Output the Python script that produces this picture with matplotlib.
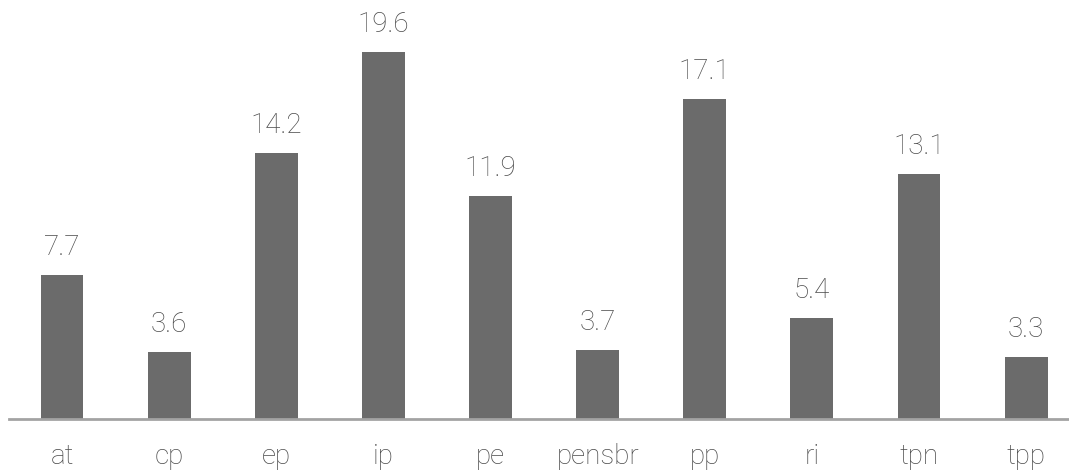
import matplotlib
matplotlib.use("Agg")
import matplotlib.pyplot as plt

categories = ["at", "cp", "ep", "ip", "pe", "pensbr", "pp", "ri", "tpn", "tpp"]
values = [7.7, 3.6, 14.2, 19.6, 11.9, 3.7, 17.1, 5.4, 13.1, 3.3]

plt.rcParams["font.family"] = ["Roboto", "DejaVu Sans"]

W, H = 1069, 471
fig = plt.figure(figsize=(W / 100, H / 100), dpi=100)
# axes placed in pixel terms: baseline at y=419 from top, spine from x=9
ax = fig.add_axes([9 / W, (H - 419) / H, (W - 9) / W, 419 / H])

x = list(range(len(categories)))
bars = ax.bar(x, values, width=0.40, color="#6b6b6b", zorder=2)

ax.set_xlim(-0.495, 9.40)
ax.set_ylim(0, 419 / 18.72)

text_color = "#4a4a4a"
for rect, v in zip(bars, values):
    ax.annotate(f"{v:.1f}", (rect.get_x() + rect.get_width() / 2, rect.get_height()),
                xytext=(0, 10), textcoords="offset points",
                ha="center", va="bottom", fontsize=20, fontweight="light",
                color=text_color)

ax.set_xticks(x)
ax.set_xticklabels(categories, fontsize=20, fontweight="light", color=text_color)
ax.tick_params(axis="x", length=0, pad=17)
ax.set_yticks([])
for s in ["top", "right", "left"]:
    ax.spines[s].set_visible(False)
ax.spines["bottom"].set_color("#a3a3a3")
ax.spines["bottom"].set_linewidth(2)
ax.spines["bottom"].set_zorder(3)

fig.savefig("out.png", dpi=100)
